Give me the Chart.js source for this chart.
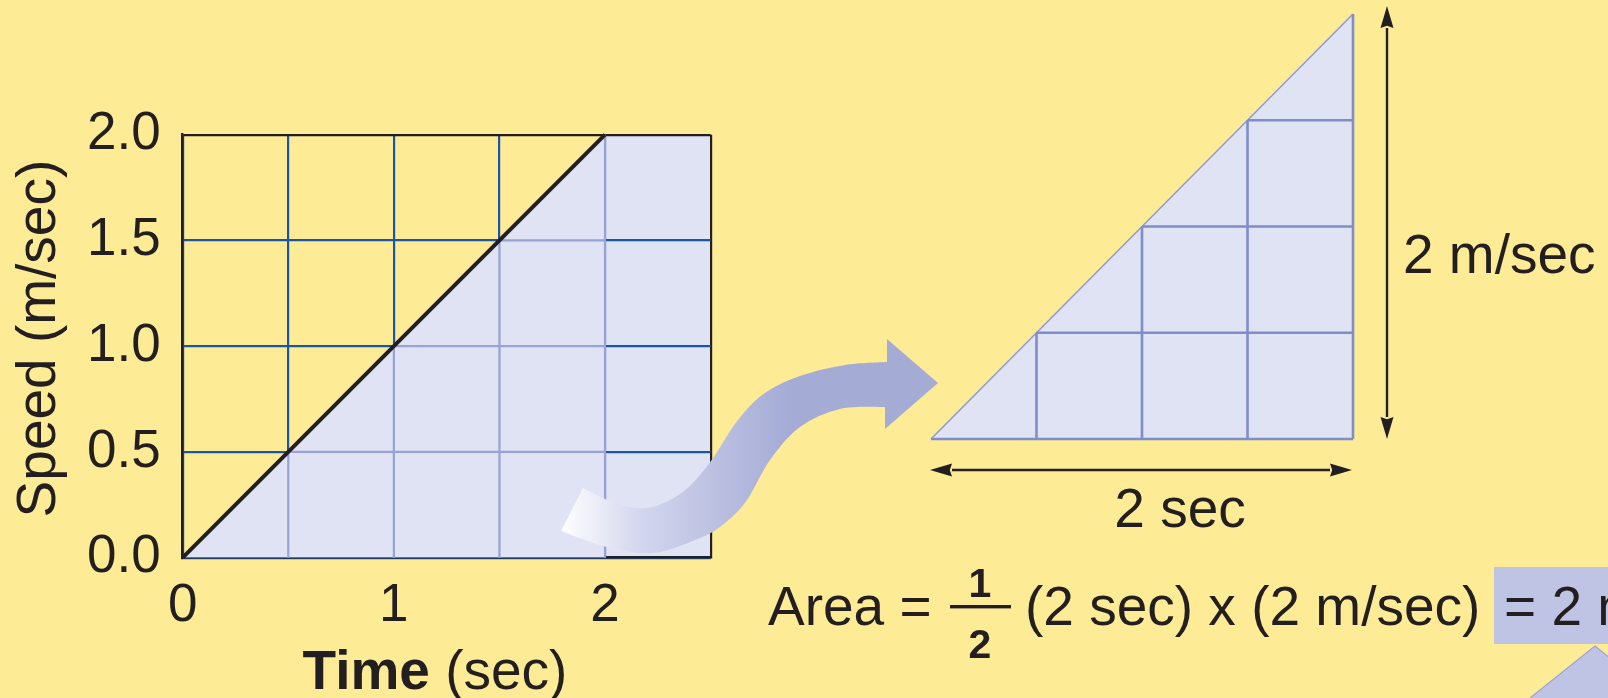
<!DOCTYPE html>
<html>
<head>
<meta charset="utf-8">
<script src="https://cdn.jsdelivr.net/npm/chart.js@4.4.1/dist/chart.umd.min.js"></script>
<style>
    html, body { margin: 0; padding: 0; background: #feeb96; }
    #wrap { position: relative; width: 1608px; height: 698px; overflow: hidden; }
    #graph { position: absolute; left: 0; top: 0; }
    #copy { position: absolute; left: 921px; top: 5px; }
</style>
</head>
<body>
<div id="wrap">
    <canvas id="graph" width="1608" height="698"></canvas>
    <canvas id="copy" width="442" height="444"></canvas>
</div>
<script>
(function () {

    // speed-time data (line from origin to 2 m/sec at 2 sec)
    const times = [0, 2];
    const speeds = [0, 2];
    const xTicks = [0, 0.5, 1, 1.5, 2, 2.5];
    const yTicks = [0, 0.5, 1, 1.5, 2];
    const xLabels = ['0', '', '1', '', '2', ''];
    const yLabels = ['0.0', '0.5', '1.0', '1.5', '2.0'];
    const xMax = 2.5;
    const yMax = 2;

    const FONT = "'Liberation Sans', Arial, sans-serif";
    const INK = '#231f20';
    const DARK_GRID = '#1a55a6';
    const LIGHT_GRID = '#99a2d5';
    const SHADE = '#dfe3f3';

    const pts = times.map((t, i) => ({x: t, y: speeds[i]}));

    let gridColor = function (edge, light) {
        return function (c) {
            const v = c.tick ? c.tick.value : null;
            if (v === edge) return INK;
            if (v === light) return LIGHT_GRID;
            return DARK_GRID;
        };
    };

    // grid lines inside the shaded triangle, stopping at the speed line
    let stairGrid = function (color, width, withEdges) {
        return {
            id: 'stairGrid',
            afterDatasetDraw(chart, args) {
                if (chart.data.datasets[args.index].label !== 'area') return;
                const {ctx, scales: {x, y}} = chart;
                const t0 = times[0], t1 = times[times.length - 1];
                const v0 = speeds[0], v1 = speeds[speeds.length - 1];
                ctx.save();
                ctx.strokeStyle = color;
                ctx.lineWidth = width;
                ctx.beginPath();
                xTicks.filter(t => t <= t1 && (withEdges ? t >= t0 : t > t0)).forEach(t => {
                    const top = v0 + (t - t0) * (v1 - v0) / (t1 - t0);
                    const px = x.getPixelForValue(t);
                    ctx.moveTo(px, y.getPixelForValue(v0));
                    ctx.lineTo(px, y.getPixelForValue(top));
                });
                yTicks.filter(v => v <= v1 && (withEdges ? v >= v0 : v > v0)).forEach(v => {
                    const left = t0 + (v - v0) * (t1 - t0) / (v1 - v0);
                    const py = y.getPixelForValue(v);
                    ctx.moveTo(x.getPixelForValue(left), py);
                    ctx.lineTo(x.getPixelForValue(t1), py);
                });
                ctx.stroke();
                ctx.restore();
            }
        };
    };

    // shaded strip after the end of the line, under the grid
    const restShade = {
        id: 'restShade',
        beforeDraw(chart) {
            const {ctx, scales: {x, y}} = chart;
            const xa = x.getPixelForValue(times[times.length - 1]);
            const xb = x.getPixelForValue(xMax);
            const ya = y.getPixelForValue(yMax);
            const yb = y.getPixelForValue(0);
            ctx.save();
            ctx.fillStyle = SHADE;
            ctx.fillRect(xa, ya, xb - xa, yb - ya);
            ctx.restore();
        }
    };

    let smoothThrough = function (ctx, p) {
        for (let i = 0; i < p.length - 1; i++) {
            const a = p[i - 1] || p[i], b = p[i], c = p[i + 1], d = p[i + 2] || c;
            ctx.bezierCurveTo(b[0] + (c[0] - a[0]) / 6, b[1] + (c[1] - a[1]) / 6,
                    c[0] - (d[0] - b[0]) / 6, c[1] - (d[1] - b[1]) / 6, c[0], c[1]);
        }
    };

    let arrow = function (ctx, x1, y1, x2, y2) {
        const ang = Math.atan2(y2 - y1, x2 - x1);
        const L = 22, W = 6.5;
        ctx.beginPath();
        ctx.moveTo(x1 + Math.cos(ang) * L, y1 + Math.sin(ang) * L);
        ctx.lineTo(x2 - Math.cos(ang) * L, y2 - Math.sin(ang) * L);
        ctx.stroke();
        [[x1, y1, ang], [x2, y2, ang + Math.PI]].forEach(h => {
            const [hx, hy, a] = h;
            ctx.beginPath();
            ctx.moveTo(hx, hy);
            ctx.lineTo(hx + Math.cos(a) * L - Math.sin(a) * W, hy + Math.sin(a) * L + Math.cos(a) * W);
            ctx.lineTo(hx + Math.cos(a) * L * 0.9, hy + Math.sin(a) * L * 0.9);
            ctx.lineTo(hx + Math.cos(a) * L + Math.sin(a) * W, hy + Math.sin(a) * L - Math.cos(a) * W);
            ctx.closePath();
            ctx.fill();
        });
    };

    // curved arrow, labels and the area formula
    const extras = {
        id: 'extras',
        afterDraw(chart) {
            const ctx = chart.ctx;
            ctx.save();

            // curved arrow
            const upper = [[583, 488], [615, 503], [647, 508], [680, 494], [708, 465], [738, 420],
                [765, 393], [800, 376], [845, 365], [887, 362]];
            const lower = [[885, 407], [840, 409], [800, 427], [770, 460], [747, 500], [725, 523],
                [700, 538], [653, 553], [607, 547], [561, 531]];
            const g = ctx.createLinearGradient(560, 0, 790, 0);
            g.addColorStop(0, '#ffffff');
            g.addColorStop(0.35, '#d3d6ee');
            g.addColorStop(1, '#a4abd5');
            ctx.fillStyle = g;
            ctx.beginPath();
            ctx.moveTo(upper[0][0], upper[0][1]);
            smoothThrough(ctx, upper);
            ctx.lineTo(887, 339);
            ctx.lineTo(938, 383);
            ctx.lineTo(885, 429);
            ctx.lineTo(885, 407);
            smoothThrough(ctx, lower);
            ctx.closePath();
            ctx.fill();

            // dimension arrows
            ctx.strokeStyle = INK;
            ctx.fillStyle = INK;
            ctx.lineWidth = 2.4;
            arrow(ctx, 1387, 6, 1387, 439);
            arrow(ctx, 930, 470, 1352, 470);

            ctx.font = '55px ' + FONT;
            ctx.textBaseline = 'alphabetic';
            ctx.textAlign = 'left';
            ctx.fillText('2 m/sec', 1403, 273);
            ctx.textAlign = 'center';
            ctx.fillText('2 sec', 1180, 527);

            // x axis title: bold "Time" + regular "(sec)"
            ctx.textAlign = 'left';
            ctx.font = 'bold 55px ' + FONT;
            const w1 = ctx.measureText('Time').width;
            ctx.font = '55px ' + FONT;
            const w2 = ctx.measureText(' (sec)').width;
            const tx = 435 - (w1 + w2) / 2;
            ctx.font = 'bold 55px ' + FONT;
            ctx.fillText('Time', tx, 689);
            ctx.font = '55px ' + FONT;
            ctx.fillText(' (sec)', tx + w1, 689);

            // result box and pointer
            ctx.fillStyle = '#c0c4e4';
            ctx.fillRect(1494, 567, 114, 77);
            ctx.beginPath();
            ctx.moveTo(1595, 646);
            ctx.lineTo(1665, 702);
            ctx.lineTo(1525, 702);
            ctx.closePath();
            ctx.fill();
            ctx.strokeStyle = '#9aa3d6';
            ctx.lineWidth = 1.2;
            ctx.stroke();

            // formula
            ctx.fillStyle = INK;
            ctx.fillText('Area =', 768, 625);
            ctx.fillText('(2 sec) x (2 m/sec)', 1025, 625);
            ctx.fillText('= 2 m', 1504, 625);
            ctx.fillRect(950, 605, 61, 3.4);
            ctx.font = 'bold 41px ' + FONT;
            ctx.textAlign = 'center';
            ctx.fillText('1', 980, 597);
            ctx.fillText('2', 980, 658);

            ctx.restore();
        }
    };

    const config = {
        type: 'line',
        data: {
            datasets: [{
                    label: 'Speed',
                    data: pts,
                    borderColor: INK,
                    borderWidth: 4,
                    pointRadius: 0,
                    fill: false,
                    order: 0,
                    clip: false
                }, {
                    label: 'area',
                    data: pts,
                    borderWidth: 0,
                    backgroundColor: SHADE,
                    pointRadius: 0,
                    fill: 'origin',
                    order: 1
                }]
        },
        options: {
            responsive: false,
            animation: false,
            devicePixelRatio: 1,
            layout: {padding: {top: 134.7, right: 897.4, left: 0, bottom: 0}},
            plugins: {
                legend: {display: false},
                tooltip: {enabled: false}
            },
            scales: {
                x: {
                    type: 'linear',
                    min: 0,
                    max: xMax,
                    afterBuildTicks: s => { s.ticks = xTicks.map(v => ({value: v})); },
                    afterFit: s => { s.height = 698 - 557.7; },
                    grid: {color: gridColor(2.5, 2), lineWidth: 2.2, drawTicks: false},
                    border: {color: INK, width: 2.5},
                    ticks: {
                        padding: 17, autoSkip: false, maxRotation: 0, color: INK,
                        font: {family: FONT, size: 53},
                        callback: (v, i) => xLabels[i]
                    }
                },
                y: {
                    type: 'linear',
                    min: 0,
                    max: yMax,
                    afterBuildTicks: s => { s.ticks = yTicks.map(v => ({value: v})); },
                    afterFit: s => { s.width = 182.7; },
                    grid: {color: gridColor(2, null), lineWidth: 2.2, drawTicks: false},
                    border: {color: INK, width: 2.5},
                    ticks: {
                        padding: 22, color: INK,
                        font: {family: FONT, size: 53},
                        callback: (v, i) => yLabels[i]
                    },
                    title: {
                        display: true, text: ' Speed (m/sec)', color: INK,
                        font: {family: FONT, size: 55},
                        padding: {top: 7, bottom: 0}
                    }
                }
            }
        },
        plugins: [restShade, stairGrid(LIGHT_GRID, 2.2, false), extras]
    };

    new Chart(document.getElementById('graph').getContext('2d'), config);

    // enlarged copy of the shaded triangle
    const copyConfig = {
        type: 'line',
        data: {
            datasets: [{
                    label: 'area',
                    data: pts,
                    borderColor: '#8c96d0',
                    borderWidth: 1.4,
                    backgroundColor: SHADE,
                    pointRadius: 0,
                    fill: 'origin',
                    clip: false
                }]
        },
        options: {
            responsive: false,
            animation: false,
            devicePixelRatio: 1,
            layout: {padding: {left: 10, right: 10, top: 9, bottom: 10}},
            plugins: {legend: {display: false}, tooltip: {enabled: false}},
            scales: {
                x: {type: 'linear', min: 0, max: times[times.length - 1], display: false},
                y: {type: 'linear', min: 0, max: speeds[speeds.length - 1], display: false}
            }
        },
        plugins: [stairGrid('#7f8dcb', 2.6, true)]
    };

    new Chart(document.getElementById('copy').getContext('2d'), copyConfig);

})();
</script>
</body>
</html>
